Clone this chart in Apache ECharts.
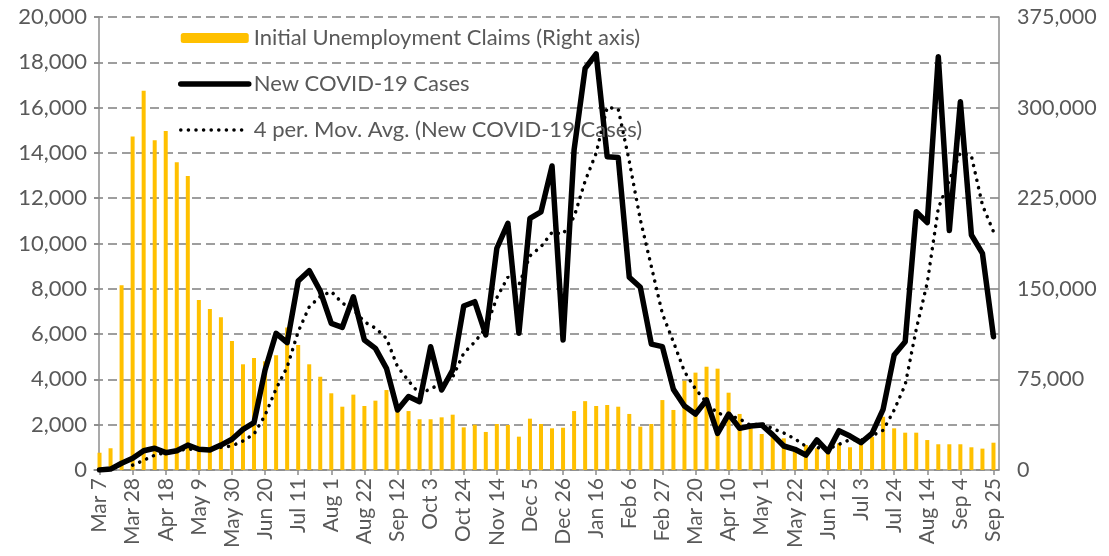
<!DOCTYPE html>
<html>
<head>
<meta charset="utf-8">
<script src="https://cdn.jsdelivr.net/npm/echarts@6/dist/echarts.min.js"></script>
<style>
  html, body { margin: 0; padding: 0; background: #fff; }
  #chart { width: 1109px; height: 556px; }
</style>
</head>
<body>
<div id="chart"></div>
<script>
// weekly dates, Mar 7 2020 .. Sep 25 2021
const weeks = [
  'Mar 7', 'Mar 14', 'Mar 21', 'Mar 28', 'Apr 4', 'Apr 11', 'Apr 18', 'Apr 25', 'May 2', 'May 9',
  'May 16', 'May 23', 'May 30', 'Jun 6', 'Jun 13', 'Jun 20', 'Jun 27', 'Jul 4', 'Jul 11', 'Jul 18',
  'Jul 25', 'Aug 1', 'Aug 8', 'Aug 15', 'Aug 22', 'Aug 29', 'Sep 5', 'Sep 12', 'Sep 19', 'Sep 26',
  'Oct 3', 'Oct 10', 'Oct 17', 'Oct 24', 'Oct 31', 'Nov 7', 'Nov 14', 'Nov 21', 'Nov 28', 'Dec 5',
  'Dec 12', 'Dec 19', 'Dec 26', 'Jan 2', 'Jan 9', 'Jan 16', 'Jan 23', 'Jan 30', 'Feb 6', 'Feb 13',
  'Feb 20', 'Feb 27', 'Mar 6', 'Mar 13', 'Mar 20', 'Mar 27', 'Apr 3', 'Apr 10', 'Apr 17', 'Apr 24',
  'May 1', 'May 8', 'May 15', 'May 22', 'May 29', 'Jun 5', 'Jun 12', 'Jun 19', 'Jun 26', 'Jul 3',
  'Jul 10', 'Jul 17', 'Jul 24', 'Jul 31', 'Aug 7', 'Aug 14', 'Aug 21', 'Aug 28', 'Sep 4', 'Sep 11',
  'Sep 18', 'Sep 25'
]

// initial unemployment claims (right axis)
const claims = [
  14300, 18000, 153000, 276000, 314000, 273000, 280600, 254700, 243400, 140700,
  133300, 126400, 106800, 87500, 92700, 90000, 95000, 118000, 103500, 87500,
  77200, 63500, 52400, 62400, 53000, 57400, 66200, 50000, 48800, 42000,
  42000, 43600, 45800, 35300, 37500, 31500, 38100, 37300, 27600, 42500,
  38100, 34500, 35000, 48800, 57000, 53000, 53800, 52400, 46400, 35900,
  38100, 57900, 49700, 73900, 80600, 85500, 83900, 64000, 46400, 34500,
  29800, 28000, 26200, 18000, 20700, 18000, 15200, 22100, 18800, 22100,
  27600, 44100, 34500, 30900, 30900, 24800, 21300, 21300, 21300, 18800,
  17700, 22600
]

// new covid-19 cases (left axis)
const cases = [
  0, 40, 300, 515, 850, 960, 765, 850, 1100, 915,
  885, 1100, 1355, 1795, 2090, 4415, 6035, 5620, 8345, 8800,
  7900, 6475, 6300, 7650, 5740, 5370, 4490, 2650, 3240, 3015,
  5445, 3530, 4415, 7240, 7430, 5960, 9790, 10890, 6035, 11110,
  11400, 13420, 5740, 14130, 17730, 18370, 13830, 13800, 8510, 8065,
  5560, 5445, 3560, 2825, 2470, 3090, 1620, 2470, 1840, 1940,
  1985, 1550, 1060, 915, 660, 1325, 810, 1735, 1500, 1205,
  1620, 2680, 5080, 5665, 11400, 10920, 18250, 10570, 16260, 10375,
  9565, 5885
]

// 4 per. moving average line as drawn (starts at 4th week)
const movAvg = [
  null, null, null, 214, 427, 656, 772, 857, 919, 908,
  937, 999, 1063, 1283, 1585, 2414, 3584, 4540, 6104, 7200,
  7666, 7880, 7369, 7081, 6541, 6265, 5813, 4563, 3938, 3349,
  3588, 3808, 4101, 5158, 5654, 6261, 7605, 8518, 8169, 9456,
  9859, 10491, 10418, 11173, 12755, 13993, 16015, 15933, 13628, 11051,
  8984, 6895, 5658, 4348, 3575, 2986, 2501, 2413, 2255, 1968,
  2059, 1829, 1634, 1377, 1046, 990, 928, 1134, 1343, 1314,
  1516, 1752, 2646, 3761, 6206, 8266, 11559, 12785, 14000, 13864,
  11693, 10521
]

const gray = '#595959'
const font = 'Lato'
const fmt = v => v.toLocaleString('en-US')

const chart = echarts.init(document.getElementById('chart'))

const option = {
  animation: false,
  backgroundColor: '#fff',
  textStyle: { fontFamily: font },
  grid: {
    left: 94,
    right: 110,
    top: 17,
    bottom: 86,
    containLabel: false
  },
  legend: {
    orient: 'vertical',
    left: 178,
    top: 27,
    padding: 0,
    itemWidth: 68,
    itemHeight: 10,
    itemGap: 24,
    textStyle: {
      color: gray,
      fontSize: 22,
      fontFamily: font,
      lineHeight: 22
    },
    data: [
      { name: 'Initial Unemployment Claims (Right axis)' },
      {
        name: 'New COVID-19 Cases',
        itemStyle: { opacity: 0 },
        lineStyle: { width: 5.5, cap: 'round' }
      },
      {
        name: '4 per. Mov. Avg. (New COVID-19 Cases)',
        itemStyle: { opacity: 0 },
        lineStyle: { width: 3.5, type: [0.1, 7.5], cap: 'round' }
      }
    ]
  },
  xAxis: {
    type: 'category',
    data: weeks,
    boundaryGap: true,
    axisLine: { lineStyle: { color: '#8c8c8c', width: 1.5 } },
    axisTick: {
      show: true,
      interval: 2,
      alignWithLabel: true,
      length: 5,
      lineStyle: { color: '#8c8c8c', width: 1.5 }
    },
    axisLabel: {
      interval: 2,
      rotate: 90,
      color: gray,
      fontSize: 21,
      fontFamily: font,
      margin: 8
    },
    splitLine: { show: false }
  },
  yAxis: [
    {
      type: 'value',
      min: 0,
      max: 20000,
      interval: 2000,
      offset: -5,
      axisLine: { show: true, lineStyle: { color: '#8c8c8c', width: 1.5 } },
      axisTick: { show: true, length: 5, lineStyle: { color: '#8c8c8c', width: 1.5 } },
      axisLabel: {
        color: gray,
        fontSize: 22,
        fontFamily: font,
        margin: 12,
        formatter: fmt
      },
      splitLine: {
        lineStyle: { color: '#7f7f7f', width: 1.5, type: [9, 5] }
      }
    },
    {
      type: 'value',
      min: 0,
      max: 375000,
      interval: 75000,
      position: 'right',
      axisLine: { show: true, lineStyle: { color: '#8c8c8c', width: 1.5 } },
      axisTick: { show: false },
      axisLabel: {
        color: gray,
        fontSize: 21.5,
        fontFamily: font,
        margin: 18,
        formatter: fmt
      },
      splitLine: { show: false }
    }
  ],
  series: [
    {
      name: 'Initial Unemployment Claims (Right axis)',
      type: 'bar',
      yAxisIndex: 1,
      data: claims,
      barWidth: 4,
      itemStyle: { color: '#FFC000' },
      z: 1
    },
    {
      name: 'New COVID-19 Cases',
      type: 'line',
      data: cases,
      symbol: 'none',
      itemStyle: { color: '#000' },
      lineStyle: { color: '#000', width: 5.5, cap: 'round', join: 'round' },
      z: 3
    },
    {
      name: '4 per. Mov. Avg. (New COVID-19 Cases)',
      type: 'line',
      data: movAvg,
      symbol: 'none',
      connectNulls: false,
      itemStyle: { color: '#000' },
      lineStyle: { color: '#000', width: 3.5, type: [0.1, 7.5], cap: 'round' },
      z: 4
    }
  ]
}

chart.setOption(option)
</script>
</body>
</html>
